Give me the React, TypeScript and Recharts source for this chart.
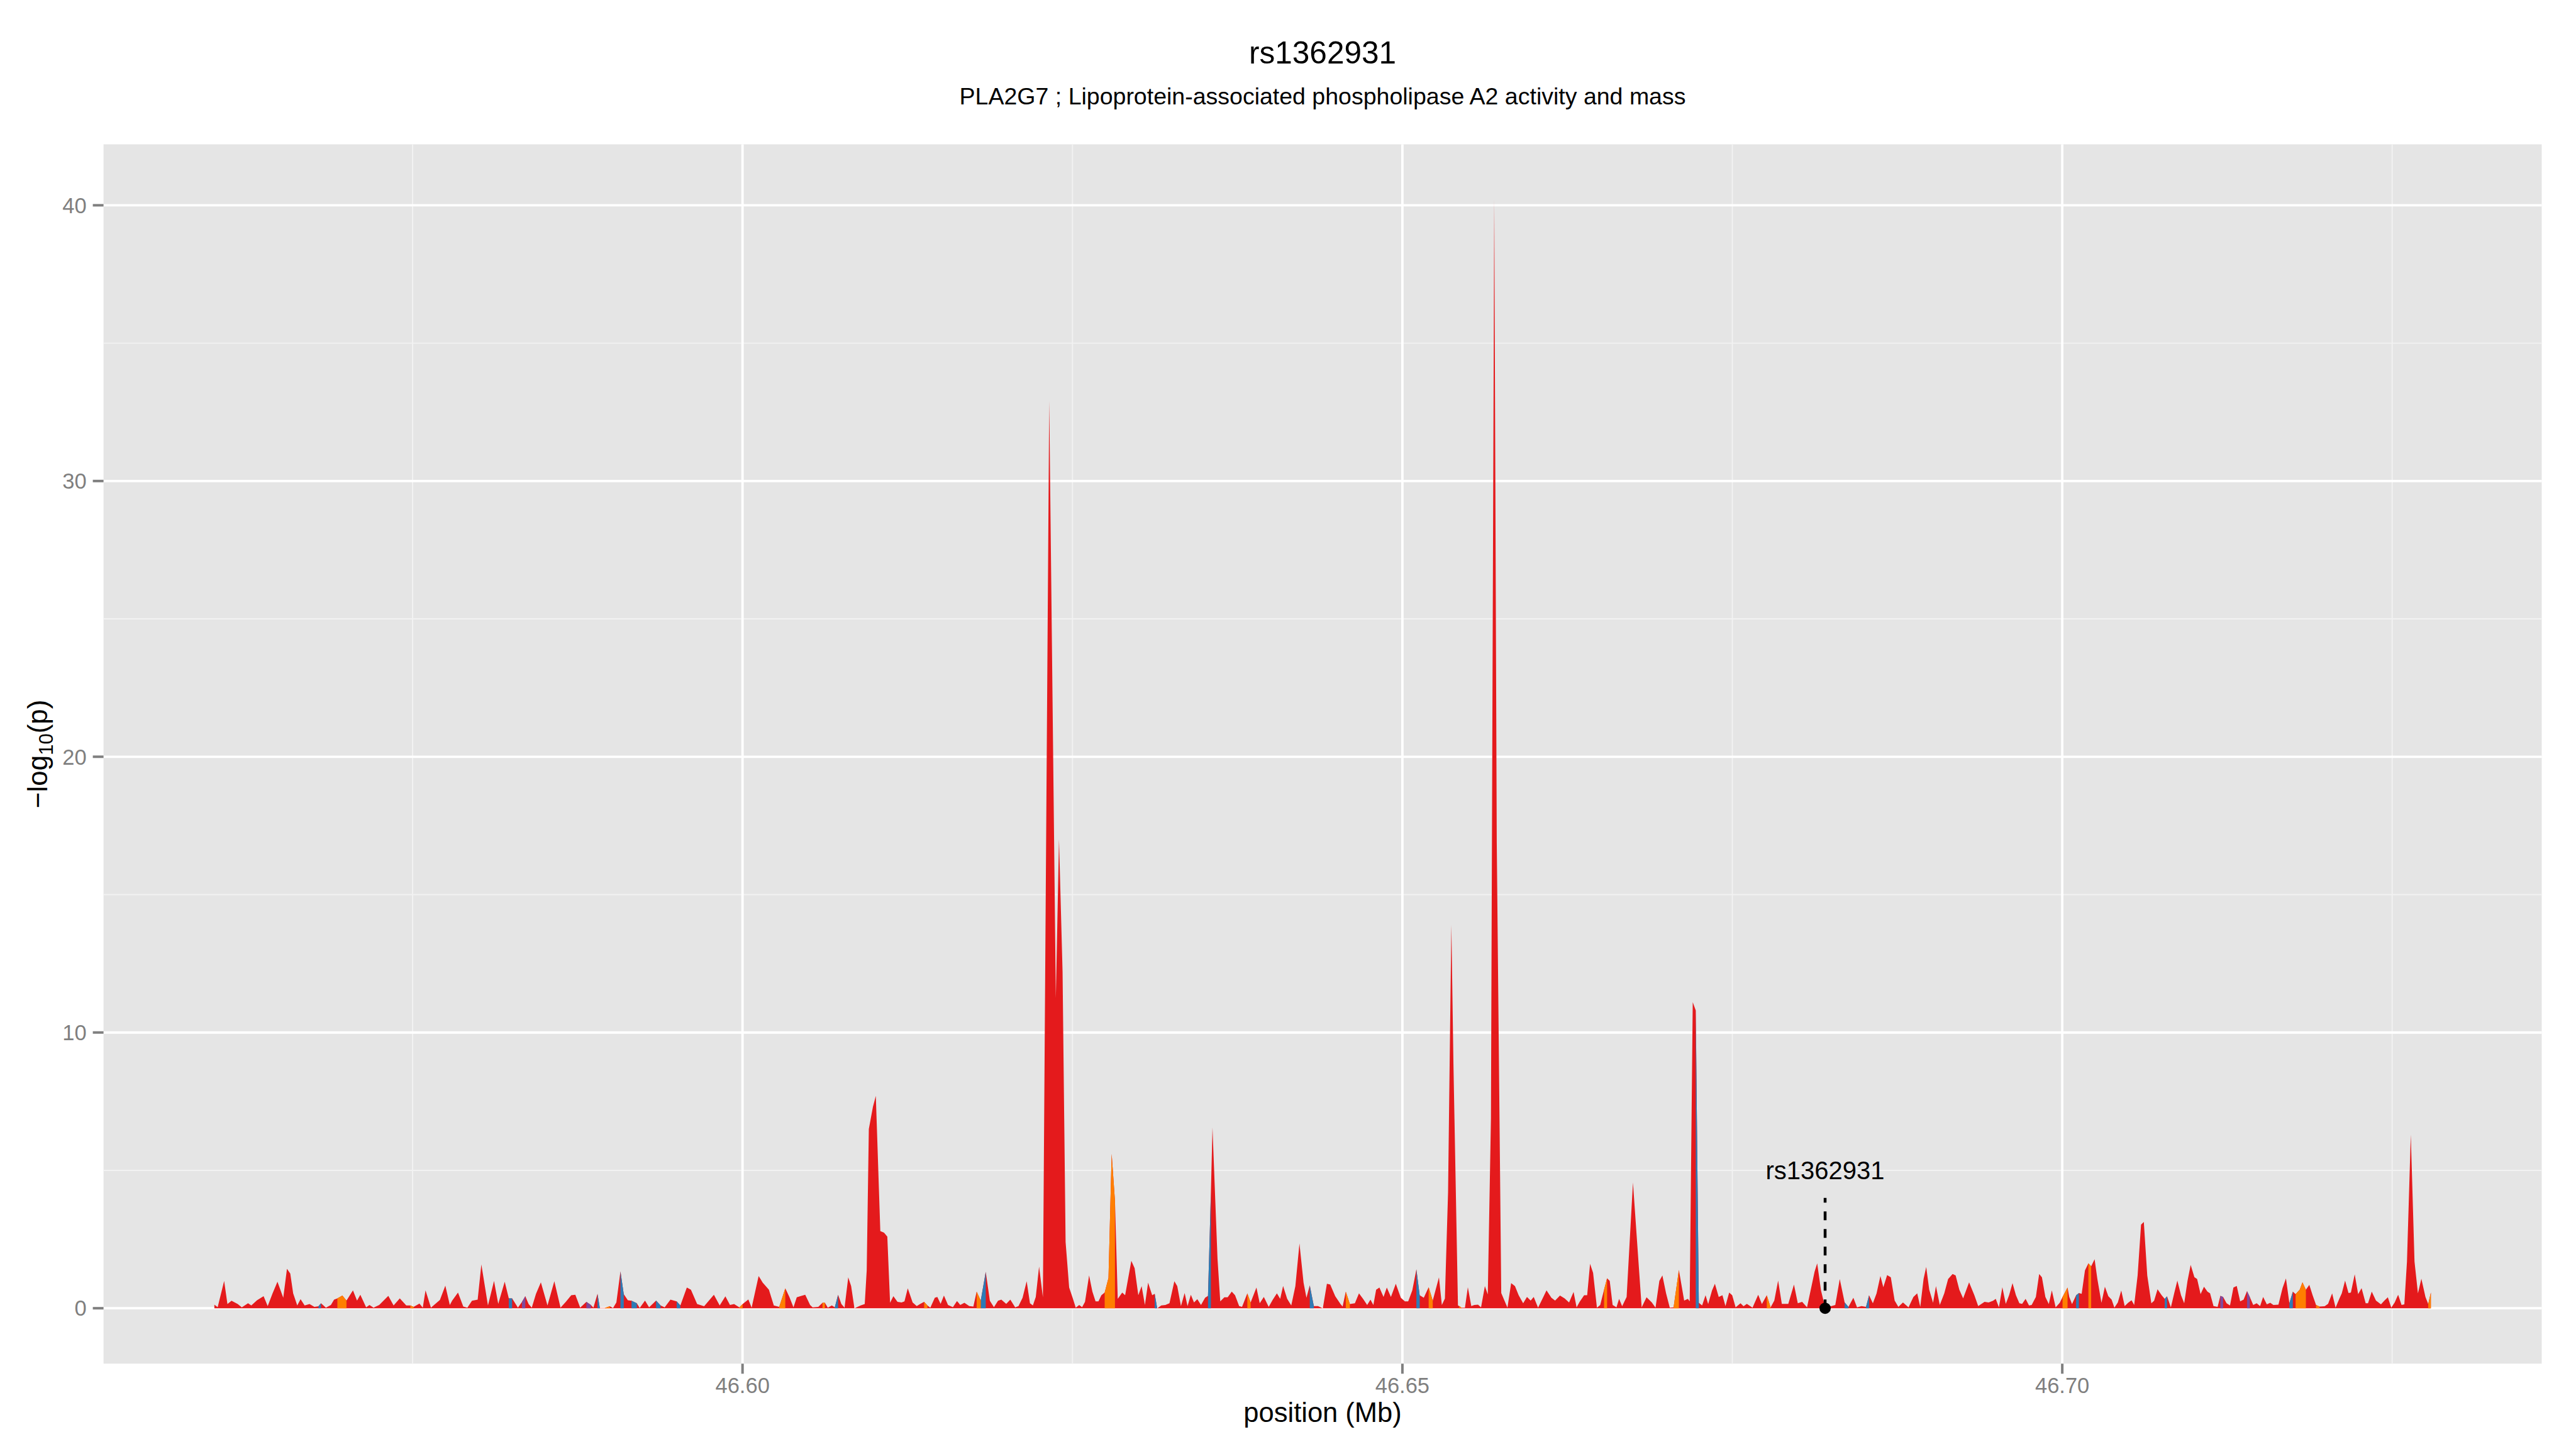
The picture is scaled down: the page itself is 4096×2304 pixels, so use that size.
import {
  Area,
  CartesianGrid,
  ComposedChart,
  ReferenceDot,
  ReferenceLine,
  XAxis,
  YAxis,
} from "recharts";

// -log10(p) per SNP, [position (Mb), value]
const snpsWest: [number, number][] = [
  [46.55998, 0.13], [46.56023, 0.04], [46.56072, 0.99], [46.56097, 0.15], [46.56128, 0.27],
  [46.56175, 0.15], [46.56206, 0.03], [46.56253, 0.18], [46.56278, 0.1], [46.56321, 0.29],
  [46.56371, 0.44], [46.56402, 0.08], [46.56439, 0.54], [46.56476, 0.96], [46.5652, 0.38],
  [46.56548, 1.43], [46.56573, 1.26], [46.56595, 0.54], [46.56626, 0.1], [46.56651, 0.33],
  [46.56682, 0.1], [46.56719, 0.15], [46.56756, 0.05], [46.56787, 0.07], [46.56806, 0.18],
  [46.56843, 0.02], [46.56881, 0.12], [46.56905, 0.31], [46.5693, 0.36], [46.56968, 0.46],
  [46.56999, 0.28], [46.57048, 0.65], [46.57079, 0.28], [46.57104, 0.49], [46.57148, 0.03],
  [46.57173, 0.12], [46.57204, 0.02], [46.57247, 0.12], [46.57316, 0.45], [46.57356, 0.1],
  [46.57403, 0.36], [46.57452, 0.1], [46.57483, 0.1], [46.57508, 0.05], [46.57552, 0.17],
  [46.57577, 0.02], [46.57598, 0.65], [46.57639, 0.02], [46.57707, 0.3], [46.57748, 0.82],
  [46.57782, 0.12], [46.578, 0.28], [46.57844, 0.57], [46.57884, 0.06], [46.57915, 0.02],
  [46.5795, 0.27], [46.57993, 0.31], [46.58021, 1.59], [46.58071, 0.1], [46.58117, 0.99],
  [46.58149, 0.16], [46.58198, 0.96], [46.58229, 0.36], [46.58254, 0.36], [46.58298, 0.02],
  [46.58329, 0.23], [46.58354, 0.44], [46.58379, 0.15], [46.58403, 0.02], [46.58435, 0.52],
  [46.58472, 0.94], [46.58522, 0.1], [46.58574, 0.98], [46.58621, 0.02], [46.58661, 0.23],
  [46.58702, 0.47], [46.58733, 0.49], [46.5877, 0.02], [46.58817, 0.23], [46.58851, 0.12],
  [46.5887, 0.02], [46.58901, 0.52], [46.58919, 0.01], [46.58957, 0.01], [46.58994, 0.07],
  [46.59019, 0.01], [46.59044, 0.21], [46.59075, 1.34], [46.591, 0.51], [46.59131, 0.29],
  [46.59159, 0.27], [46.59199, 0.18], [46.59221, 0.01], [46.59261, 0.28], [46.59292, 0.03],
  [46.59345, 0.28], [46.59379, 0.1], [46.5941, 0.03], [46.59454, 0.31], [46.59501, 0.25],
  [46.59529, 0.1], [46.59578, 0.75], [46.59609, 0.67], [46.59656, 0.15], [46.59709, 0.07],
  [46.59783, 0.49], [46.59827, 0.1], [46.5987, 0.43], [46.59905, 0.12], [46.59936, 0.15],
  [46.59976, 0.03], [46.60001, 0.15], [46.60044, 0.32], [46.60069, 0.02], [46.60122, 1.17],
  [46.60153, 0.93], [46.602, 0.67], [46.60237, 0.1], [46.60278, 0.05], [46.60324, 0.72],
  [46.60355, 0.41], [46.60386, 0.03], [46.60411, 0.4],
];

const snpsPeaks: [number, number][] = [
  [46.60475, 0.49], [46.60512, 0.12], [46.60531, 0.03], [46.60574, 0.05], [46.60606, 0.2],
  [46.60624, 0.2], [46.60646, 0.02], [46.60677, 0.1], [46.60699, 0.03], [46.60724, 0.49],
  [46.60749, 0.15], [46.60773, 0.02], [46.60801, 1.12], [46.60823, 0.8], [46.60848, 0.0],
  [46.60895, 0.1], [46.60926, 0.15], [46.60941, 1.38], [46.60957, 6.5], [46.60988, 7.3],
  [46.6101, 7.7], [46.61044, 2.8], [46.61072, 2.74], [46.61097, 2.6], [46.61118, 0.2],
  [46.61143, 0.44], [46.61174, 0.23], [46.61205, 0.21], [46.61227, 0.25], [46.61252, 0.72],
  [46.61289, 0.21], [46.6132, 0.08], [46.61345, 0.15], [46.61376, 0.23], [46.61401, 0.1],
  [46.61423, 0.02], [46.61457, 0.38], [46.61476, 0.41], [46.61501, 0.16], [46.61526, 0.46],
  [46.61557, 0.12], [46.61594, 0.04], [46.61625, 0.26], [46.6165, 0.12], [46.61681, 0.2],
  [46.61718, 0.08], [46.61749, 0.06], [46.61774, 0.6], [46.61805, 0.28], [46.61843, 1.32],
  [46.61874, 0.27], [46.61905, 0.04], [46.61936, 0.27], [46.61961, 0.31], [46.61998, 0.16],
  [46.62029, 0.31], [46.62066, 0.03], [46.62091, 0.08], [46.62122, 0.38], [46.62153, 0.98],
  [46.62178, 0.18], [46.622, 0.1], [46.62222, 0.41], [46.62247, 1.51], [46.62276, 0.4],
  [46.62324, 32.9], [46.62374, 11.25], [46.62398, 17.0], [46.62425, 12.2], [46.62448, 2.4],
  [46.62475, 0.75], [46.625, 0.4], [46.62525, 0.02], [46.62551, 0.12], [46.62573, 0.04],
  [46.62595, 0.23], [46.62626, 1.19], [46.62651, 0.6], [46.62675, 0.25], [46.62697, 0.25],
  [46.62719, 0.47], [46.62744, 0.57], [46.62773, 1.1], [46.62797, 5.6], [46.62822, 3.9],
  [46.62843, 0.34], [46.62877, 0.57], [46.62899, 0.47], [46.62946, 1.72], [46.62971, 1.45],
  [46.62999, 0.47], [46.63024, 0.8], [46.63049, 0.12], [46.63073, 0.93], [46.63104, 0.47],
  [46.63123, 0.52], [46.63142, 0.0], [46.63173, 0.1], [46.63204, 0.12], [46.63235, 0.18],
  [46.63272, 0.98], [46.63294, 0.8], [46.63322, 0.08], [46.6335, 0.55], [46.63372, 0.08],
  [46.63397, 0.49], [46.63421, 0.21], [46.63446, 0.33], [46.63474, 0.12], [46.63505, 0.38],
  [46.63527, 0.45], [46.63549, 4.2], [46.63561, 6.55], [46.63599, 1.8], [46.6362, 0.25],
  [46.63651, 0.4], [46.63676, 0.4], [46.63707, 0.6], [46.63732, 0.47], [46.63763, 0.08],
  [46.63785, 0.05], [46.63825, 0.54], [46.6385, 0.21], [46.63894, 0.75], [46.63919, 0.18],
  [46.6395, 0.41], [46.63987, 0.05], [46.64018, 0.31], [46.64049, 0.54], [46.64074, 0.34],
  [46.64096, 0.81], [46.64127, 0.34], [46.64158, 0.1], [46.64189, 0.8], [46.6422, 2.35],
  [46.64251, 0.93], [46.64273, 0.38], [46.64298, 0.83], [46.64329, 0.08], [46.6436, 0.08],
  [46.64397, 0.0], [46.64428, 0.89], [46.64453, 0.86], [46.64491, 0.44], [46.64531, 0.15],
  [46.64547, 0.06], [46.64571, 0.6], [46.64602, 0.15], [46.6464, 0.18], [46.64671, 0.54],
  [46.64702, 0.34], [46.64733, 0.12], [46.64758, 0.31], [46.6478, 0.12], [46.64801, 0.67],
  [46.64826, 0.75], [46.64857, 0.41], [46.64882, 0.75], [46.64913, 0.41], [46.6495, 0.89],
  [46.64988, 0.38], [46.65019, 0.25], [46.65044, 0.25], [46.65075, 0.65], [46.65106, 1.41],
  [46.65131, 0.47], [46.65162, 0.38], [46.65199, 0.76], [46.6523, 0.28], [46.65277, 1.12],
  [46.65299, 0.12], [46.65322, 0.35], [46.65346, 4.2], [46.65371, 13.9], [46.65387, 8.8],
  [46.65421, 0.1],
];

const snpsCentral: [number, number][] = [
  [46.65431, 0.08], [46.65448, 0.02], [46.65474, 0.02], [46.65496, 0.76], [46.65522, 0.08],
  [46.65545, 0.12], [46.65573, 0.13], [46.65596, 0.03], [46.65625, 0.8], [46.65647, 0.5],
  [46.65671, 6.9], [46.65696, 40.2], [46.65715, 16.9], [46.65749, 0.55], [46.65796, 0.02],
  [46.65824, 0.91], [46.65853, 0.8], [46.65881, 0.47], [46.65915, 0.18], [46.65944, 0.41],
  [46.65972, 0.28], [46.65995, 0.41], [46.66028, 0.02], [46.66058, 0.31], [46.66092, 0.65],
  [46.66129, 0.38], [46.66157, 0.28], [46.66194, 0.46], [46.66229, 0.36], [46.66263, 0.21],
  [46.66297, 0.59], [46.6632, 0.03], [46.66343, 0.23], [46.66377, 0.47], [46.664, 0.47],
  [46.66422, 1.61], [46.66445, 1.28], [46.66474, 0.02], [46.66499, 0.12], [46.66528, 0.67],
  [46.66551, 1.09], [46.66571, 0.99], [46.66593, 0.12], [46.66622, 0.03], [46.66642, 0.34],
  [46.66665, 0.07], [46.66699, 0.41], [46.66747, 4.56], [46.66813, 0.03], [46.6685, 0.4],
  [46.6689, 0.21], [46.66918, 0.02], [46.66947, 0.99], [46.6697, 1.19], [46.66998, 0.54],
  [46.67026, 0.02], [46.67055, 0.03], [46.67095, 1.39], [46.67135, 0.28], [46.67163, 0.34],
  [46.67177, 0.25], [46.672, 11.1], [46.67223, 10.8], [46.67246, 0.2], [46.67271, 0.1],
  [46.67297, 0.47], [46.67317, 0.15], [46.67346, 0.64], [46.67368, 0.89], [46.67397, 0.41],
  [46.67425, 0.47], [46.67448, 0.08], [46.67476, 0.57], [46.67499, 0.47], [46.67525, 0.03],
  [46.67562, 0.18], [46.67585, 0.07], [46.6761, 0.16], [46.67653, 0.02], [46.67696, 0.49],
  [46.67724, 0.15], [46.67761, 0.47], [46.6779, 0.03], [46.67818, 0.28], [46.67847, 1.0],
  [46.67875, 0.16], [46.67924, 0.16], [46.67967, 0.86], [46.67996, 0.18], [46.68029, 0.23],
  [46.68066, 0.03], [46.68123, 1.32], [46.68143, 1.63], [46.68172, 0.64], [46.68203, 0.03],
  [46.68251, 0.08], [46.6828, 0.12], [46.68314, 1.06], [46.68351, 0.21], [46.6838, 0.05],
  [46.68417, 0.38], [46.68445, 0.03], [46.68479, 0.08], [46.68513, 0.05], [46.68536, 0.47],
  [46.68565, 0.18], [46.68593, 0.54], [46.68622, 1.17], [46.68644, 0.76], [46.68673, 1.2],
  [46.68701, 1.12], [46.6873, 0.28], [46.68758, 0.05], [46.68793, 0.21], [46.68835, 0.03],
  [46.68872, 0.41], [46.68901, 0.54], [46.68924, 0.05], [46.68949, 1.06], [46.68969, 1.5],
  [46.68992, 0.67], [46.69021, 0.2], [46.69043, 0.8], [46.69072, 0.12], [46.69106, 0.54],
  [46.69135, 1.06], [46.69169, 1.24], [46.69192, 1.19], [46.6922, 0.67], [46.69249, 0.36],
  [46.69294, 0.94], [46.69334, 0.47], [46.69363, 0.08],
];

const snpsEast: [number, number][] = [
  [46.69411, 0.23], [46.69442, 0.21], [46.69476, 0.27], [46.69496, 0.34], [46.6952, 0.03],
  [46.69546, 0.76], [46.69572, 0.16], [46.69597, 0.47], [46.69623, 0.91], [46.69649, 0.47],
  [46.69675, 0.18], [46.69696, 0.16], [46.69722, 0.34], [46.69748, 0.1], [46.69768, 0.12],
  [46.698, 0.41], [46.69825, 1.24], [46.69846, 1.12], [46.69872, 0.41], [46.69898, 0.15],
  [46.69921, 0.65], [46.6995, 0.03], [46.69981, 0.2], [46.70002, 0.41], [46.7004, 0.75],
  [46.70053, 0.41], [46.70074, 0.15], [46.70105, 0.47], [46.70126, 0.55], [46.70147, 0.52],
  [46.70172, 1.37], [46.70198, 1.63], [46.70219, 1.52], [46.70245, 1.78], [46.70266, 1.06],
  [46.70297, 0.2], [46.70323, 0.78], [46.70349, 0.44], [46.70374, 0.31], [46.70395, 0.02],
  [46.70421, 0.21], [46.70447, 0.64], [46.70473, 0.08], [46.70499, 0.2], [46.70525, 0.29],
  [46.70545, 0.12], [46.70571, 1.19], [46.70597, 3.03], [46.70618, 3.13], [46.70644, 1.19],
  [46.70675, 0.18], [46.70696, 0.27], [46.70722, 0.69], [46.70753, 0.47], [46.70776, 0.34],
  [46.70794, 0.43], [46.70823, 0.03], [46.70848, 0.54], [46.70872, 1.0], [46.709, 0.47],
  [46.70924, 0.18], [46.70949, 0.99], [46.70973, 1.57], [46.71001, 1.13], [46.71022, 1.06],
  [46.71048, 0.51], [46.71074, 0.78], [46.711, 0.6], [46.7112, 0.54], [46.71146, 0.08],
  [46.71177, 0.05], [46.71198, 0.45], [46.71219, 0.41], [46.71245, 0.18], [46.71271, 0.1],
  [46.71297, 0.75], [46.71322, 0.81], [46.71348, 0.25], [46.71374, 0.31], [46.714, 0.62],
  [46.71421, 0.41], [46.71447, 0.12], [46.71473, 0.18], [46.71499, 0.08], [46.71522, 0.41],
  [46.7155, 0.14], [46.71576, 0.2], [46.716, 0.12], [46.71638, 0.13], [46.71669, 0.73],
  [46.71695, 1.08], [46.71721, 0.18], [46.71747, 0.6], [46.71768, 0.51], [46.71799, 0.67],
  [46.7182, 0.94], [46.71846, 0.67], [46.71872, 0.85], [46.71897, 0.47], [46.71923, 0.12],
  [46.71949, 0.06], [46.71988, 0.07], [46.72014, 0.16], [46.72045, 0.54], [46.72071, 0.02],
  [46.72099, 0.34], [46.72118, 0.54], [46.72143, 1.0], [46.72169, 0.55], [46.72187, 0.57],
  [46.72216, 1.23], [46.72242, 0.51], [46.72268, 0.73], [46.72299, 0.18], [46.72317, 0.18],
  [46.72345, 0.6], [46.72377, 0.28], [46.72415, 0.14], [46.72441, 0.28], [46.72467, 0.4],
  [46.72493, 0.02], [46.72519, 0.21], [46.72545, 0.49], [46.72571, 0.12], [46.72592, 0.14],
  [46.72612, 1.7], [46.72641, 6.3], [46.72669, 1.7], [46.72695, 0.54], [46.72721, 1.07],
  [46.72752, 0.41], [46.72773, 0.15], [46.72793, 0.57],
];

// stretches (from, to in Mb) filled with a different LD colour
const blueRuns: [number, number][] = [
  [46.56787, 46.56806], [46.58229, 46.58254], [46.58901, 46.58919], [46.59075, 46.591],
  [46.59159, 46.59199], [46.59345, 46.59379], [46.59501, 46.59529], [46.60699, 46.60724],
  [46.61805, 46.61843], [46.63123, 46.63142], [46.63527, 46.63549], [46.64298, 46.64329],
  [46.65106, 46.65131], [46.67223, 46.67246], [46.68351, 46.6838], [46.68513, 46.68536],
  [46.70105, 46.70126], [46.70776, 46.70794], [46.71721, 46.71747],
];
const orangeRuns: [number, number][] = [
  [46.5693, 46.56999], [46.57483, 46.57508], [46.58957, 46.58994], [46.59976, 46.60001],
  [46.60278, 46.60324], [46.60606, 46.60624], [46.61376, 46.61401], [46.61774, 46.61805],
  [46.62744, 46.62822], [46.63825, 46.6385], [46.64571, 46.64602], [46.65199, 46.6523],
  [46.65431, 46.65448], [46.66528, 46.66551], [46.67055, 46.67095], [46.67761, 46.6779],
  [46.70002, 46.7004], [46.70198, 46.70219], [46.71768, 46.71846], [46.71923, 46.71949],
  [46.72773, 46.72793],
];
const purpleRuns: [number, number][] = [
  [46.58329, 46.58354], [46.58817, 46.58851], [46.71198, 46.71219], [46.714, 46.71421],
];

const xTicks = [46.6, 46.65, 46.7];
const xMinor = [46.575, 46.625, 46.675, 46.725];
const yTicks = [0, 10, 20, 30, 40];
const yMinor = [5, 15, 25, 35];

const leadSnp = "rs1362931";
const leadPos = 46.68203;
const leadLineTop = 4.0;
const leadLabelY = 4.67;

const title = "rs1362931";
const subtitle = "PLA2G7 ; Lipoprotein-associated phospholipase A2 activity and mass";

const FONT = "'Liberation Sans', Arial, Helvetica, sans-serif";
const W = 4096;
const H = 2304;
const PLOT = { left: 164.6, right: 4041.5, top: 229.5, bottom: 2168.3 };

const inRuns = (p: number, runs: [number, number][]) =>
  runs.some(([a, b]) => p >= a - 1e-7 && p <= b + 1e-7);

const rows = [...snpsWest, ...snpsPeaks, ...snpsCentral, ...snpsEast].map(([pos, p]) => ({
  pos,
  red: p,
  blue: inRuns(pos, blueRuns) ? p : null,
  orange: inRuns(pos, orangeRuns) ? p : null,
  purple: inRuns(pos, purpleRuns) ? p : null,
}));

const areaProps = {
  type: "linear" as const,
  stroke: "none",
  fillOpacity: 1,
  dot: false,
  activeDot: false,
  isAnimationActive: false,
  baseValue: 0,
  connectNulls: false,
};

export default function App() {
  const cx = (PLOT.left + PLOT.right) / 2;
  const cy = (PLOT.top + PLOT.bottom) / 2;
  return (
    <div style={{ position: "absolute", left: 0, top: 0, width: W, height: H, background: "#fff" }}>
      <ComposedChart
        width={W}
        height={H}
        data={rows}
        margin={{ top: PLOT.top, right: W - PLOT.right, bottom: 0, left: 0 }}
      >
        <CartesianGrid
          fill="#E5E5E5"
          stroke="#F2F2F2"
          strokeWidth={1.9}
          horizontalValues={yMinor}
          verticalValues={xMinor}
        />
        <CartesianGrid stroke="#FFFFFF" strokeWidth={3.8} horizontalValues={yTicks} verticalValues={xTicks} />
        <XAxis
          dataKey="pos"
          type="number"
          domain={[46.55158, 46.73633]}
          allowDataOverflow
          ticks={xTicks}
          tickFormatter={(v: number) => v.toFixed(2)}
          height={H - PLOT.bottom}
          axisLine={false}
          tickLine={{ stroke: "#7F7F7F", strokeWidth: 4 }}
          tickSize={16}
          tickMargin={6.6}
          tick={{ fill: "#7F7F7F", fontSize: 34.5, fontFamily: FONT }}
        />
        <YAxis
          type="number"
          domain={[-2.01, 42.21]}
          allowDataOverflow
          ticks={yTicks}
          width={PLOT.left}
          axisLine={false}
          tickLine={{ stroke: "#7F7F7F", strokeWidth: 4 }}
          tickSize={17}
          tickMargin={10}
          tick={{ fill: "#7F7F7F", fontSize: 34.5, fontFamily: FONT }}
        />
        <Area {...areaProps} dataKey="red" fill="#E41A1C" />
        <Area {...areaProps} dataKey="blue" fill="#2C7BB6" />
        <Area {...areaProps} dataKey="orange" fill="#FF7F00" />
        <Area {...areaProps} dataKey="purple" fill="#7E4A9E" />
        <ReferenceLine
          segment={[
            { x: leadPos, y: 0 },
            { x: leadPos, y: leadLineTop },
          ]}
          stroke="#000"
          strokeWidth={4.5}
          strokeDasharray="14 14"
          ifOverflow="visible"
        />
        <ReferenceDot x={leadPos} y={0} r={9} fill="#000" stroke="none" ifOverflow="visible" />
        <ReferenceDot
          x={leadPos}
          y={leadLabelY}
          r={1}
          ifOverflow="visible"
          shape={(p: any) => (
            <text x={p.cx} y={p.cy} textAnchor="middle" fontSize={40} fontFamily={FONT} fill="#000">
              {leadSnp}
            </text>
          )}
        />
      </ComposedChart>
      <svg
        width={W}
        height={H}
        style={{ position: "absolute", left: 0, top: 0, pointerEvents: "none" }}
        fontFamily={FONT}
      >
        <text x={cx} y={100.7} textAnchor="middle" fontSize={49.5} fill="#000">
          {title}
        </text>
        <text x={cx} y={166} textAnchor="middle" fontSize={37.5} fill="#000">
          {subtitle}
        </text>
        <text x={cx} y={2261} textAnchor="middle" fontSize={43.5} fill="#000">
          position (Mb)
        </text>
        <text x={75} y={cy} transform={`rotate(-90, 75, ${cy})`} textAnchor="middle" fontSize={44} fill="#000">
          −log
          <tspan fontSize={31} dy={9}>
            10
          </tspan>
          <tspan dy={-9}>(p)</tspan>
        </text>
      </svg>
    </div>
  );
}
